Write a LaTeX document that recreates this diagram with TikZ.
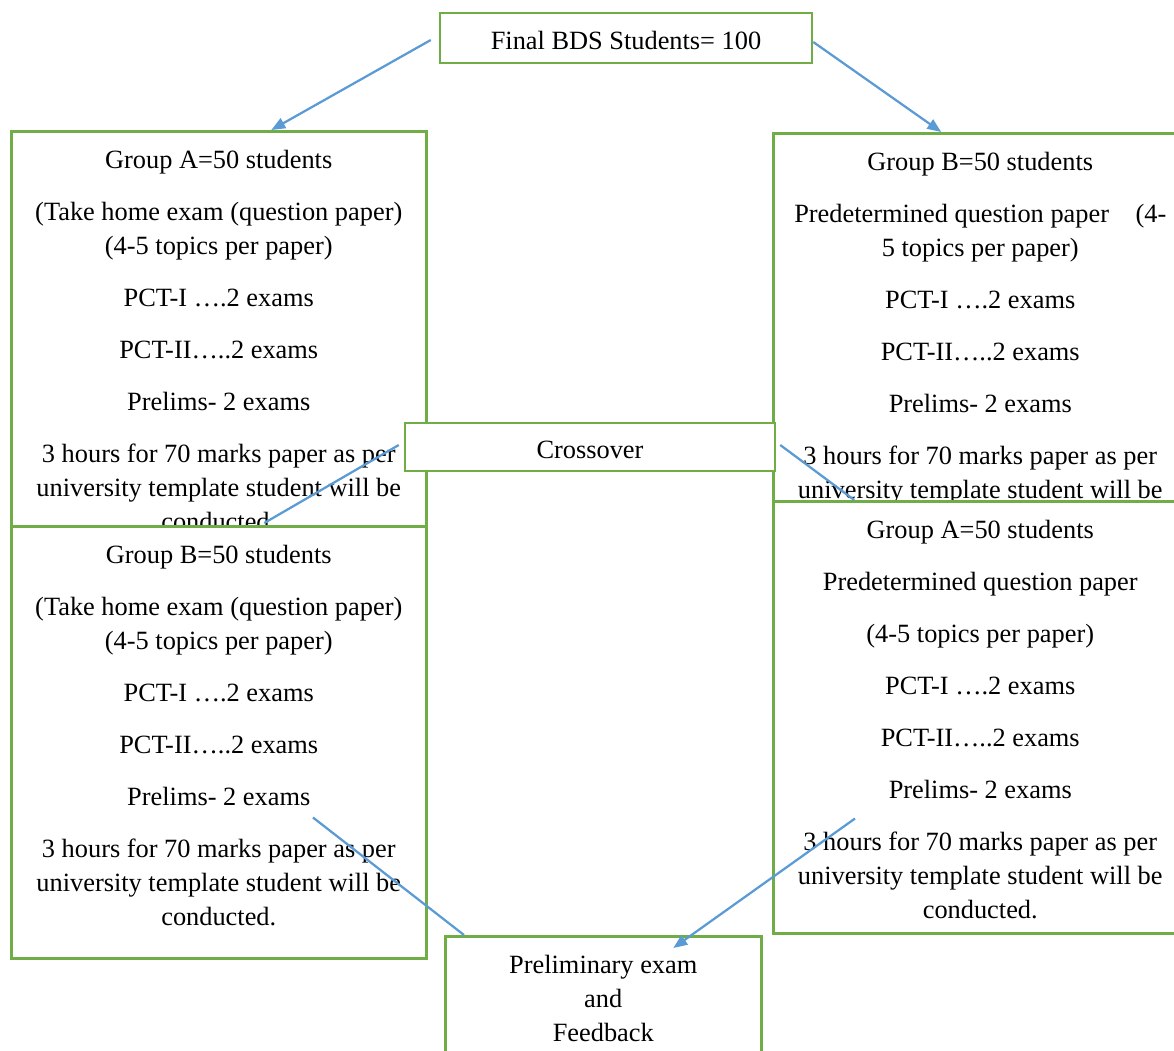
\documentclass[tikz,border=0pt]{standalone}
\usepackage{fontspec}
\setmainfont{Liberation Serif}
\usepackage{amsmath}
\usetikzlibrary{arrows.meta}

\definecolor{boxgreen}{RGB}{112,173,71}
\definecolor{lineblue}{RGB}{91,155,213}

% top aligned text block of a group box: height, width, lines
\newcommand{\boxlines}[3]{\parbox[t][#1][t]{#2}{\centering\vspace*{0.37cm}#3}}

\begin{document}
\begin{tikzpicture}[font=\fontsize{15}{19.35}\selectfont]
	\useasboundingbox (0,0) rectangle (23.48,-21);

	\begin{scope}[every node/.style={draw=boxgreen,line width=0.05cm,fill=white,inner sep=0pt,anchor=north west}]
		\node (gA1) at (0.2,-2.6) {\boxlines{8.66cm}{8.3cm}{Group A=50 students\\[0.36cm](Take home exam (question paper)\\(4-5 topics per paper)\\[0.36cm]PCT-I ….2 exams\\[0.36cm]PCT-II…..2 exams\\[0.36cm]Prelims- 2 exams\\[0.36cm]3 hours for 70 marks paper as per\\university template student will be\\conducted.}};
		\node (gB1) at (15.44,-2.64) {\boxlines{8.16cm}{8.28cm}{Group B=50 students\\[0.36cm]\makebox[7.44cm]{Predetermined question paper\hfill(4-}\\5 topics per paper)\\[0.36cm]PCT-I ….2 exams\\[0.36cm]PCT-II…..2 exams\\[0.36cm]Prelims- 2 exams\\[0.36cm]3 hours for 70 marks paper as per\\university template student will be}};
		\node (gB2) at (0.2,-10.5) {\boxlines{8.64cm}{8.3cm}{Group B=50 students\\[0.36cm](Take home exam (question paper)\\(4-5 topics per paper)\\[0.36cm]PCT-I ….2 exams\\[0.36cm]PCT-II…..2 exams\\[0.36cm]Prelims- 2 exams\\[0.36cm]3 hours for 70 marks paper as per\\university template student will be\\conducted.}};
		\node (gA2) at (15.44,-10.0) {\boxlines{8.64cm}{8.28cm}{Group A=50 students\\[0.36cm]Predetermined question paper\\[0.36cm](4-5 topics per paper)\\[0.36cm]PCT-I ….2 exams\\[0.36cm]PCT-II…..2 exams\\[0.36cm]Prelims- 2 exams\\[0.36cm]3 hours for 70 marks paper as per\\university template student will be\\conducted.}};
		\node[anchor=center,minimum width=7.44cm,minimum height=1cm,text height=0.48cm] (fin) at (12.52,-0.76) {Final BDS Students= 100};
		\node[anchor=center,minimum width=7.4cm,minimum height=0.96cm,text height=0.48cm] (cross) at (11.8,-8.94) {Crossover};
		\node (pre) at (8.88,-18.7) {\boxlines{3cm}{6.32cm}{Preliminary exam\\and\\Feedback}};
	\end{scope}

	\begin{scope}[every edge/.style={draw=lineblue,line width=0.045cm},>={Triangle[length=0.28cm,width=0.22cm]}]
		\path [->] ([xshift=-0.16cm,yshift=-0.04cm]fin.west) edge ([xshift=1.05cm]gA1.north);
		\path [->] ([yshift=-0.08cm]fin.east) edge ([xshift=-0.78cm]gB1.north);
		\path ([xshift=-0.1cm,yshift=0.04cm]cross.west) edge ([xshift=0.91cm,yshift=0.04cm]gB2.north);
		\path ([xshift=0.08cm,yshift=0.04cm]cross.east) edge ([xshift=-2.52cm]gA2.north);
		\path ([xshift=6.06cm,yshift=2.84cm]gB2.south west) edge ([xshift=0.4cm]pre.north west);
		\path [->] ([xshift=1.66cm,yshift=2.32cm]gA2.south west) edge ([xshift=1.4cm,yshift=-0.26cm]pre.north);
	\end{scope}
\end{tikzpicture}
\end{document}
